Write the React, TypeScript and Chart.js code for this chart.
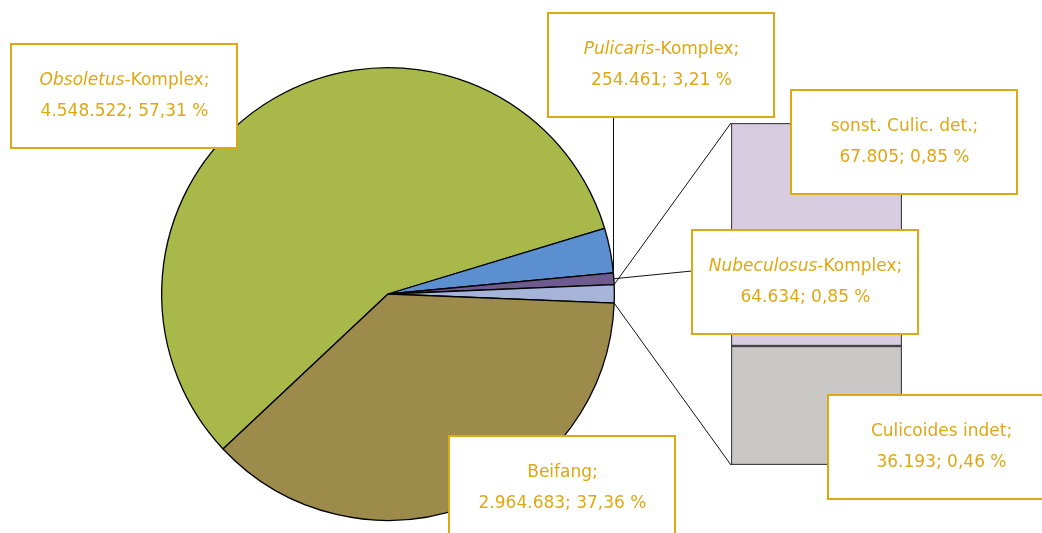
import React, { useEffect, useRef } from "react";
import { Chart, registerables } from "chart.js";

Chart.register(...registerables);

// ---- data ----
const pieLabels = ["Obsoletus-Komplex", "Pulicaris-Komplex", "Nubeculosus-Komplex", "Sonstige", "Beifang"];
const obsoletusCount = 4548522;
const pulicarisCount = 254461;
const nubeculosusCount = 64634;
const beifangCount = 2964683;
const barLabels = ["Culicoides indet", "sonst. Culic. det."];
const barCounts = [36193, 67805];
const otherCount = barCounts[0] + barCounts[1];
const pieValues = [obsoletusCount, pulicarisCount, nubeculosusCount, otherCount, beifangCount];

const labelItalic = ["Obsoletus", "Pulicaris", "Nubeculosus", "", "", ""];
const labelPlain = ["-Komplex;", "-Komplex;", "-Komplex;", "sonst. Culic. det.;", "Culicoides indet;", "Beifang;"];
const labelCounts = [obsoletusCount, pulicarisCount, nubeculosusCount, barCounts[1], barCounts[0], beifangCount];
const labelPercents = ["57,31 %", "3,21 %", "0,85 %", "0,85 %", "0,46 %", "37,36 %"];

// ---- styling / layout ----
const pieColors = ["#A8B94A", "#5B8FD0", "#6E5C8E", "#A7B4DA", "#9C8B4B"];
const barColors = ["#C8C7C5", "#D8CCE1"];
const textColor = "rgb(222,168,20)";
const boxPos = [
  [11, 44],
  [548, 13],
  [692, 230],
  [791, 90],
  [828, 395],
  [449, 436],
];
const BOX_W = 226;
const BOX_H = 104;
const FONT = "DejaVu Sans";
const FONT_SIZE = 17;

function fmt(n: number): string {
  return String(n).replace(/\B(?=(\d{3})+(?!\d))/g, ".");
}

export default function App() {
  const pieRef = useRef<HTMLCanvasElement | null>(null);
  const barRef = useRef<HTMLCanvasElement | null>(null);

  useEffect(() => {
    if (!pieRef.current || !barRef.current) return;
    const pie = new Chart(pieRef.current, {
      type: "pie",
      data: {
        labels: pieLabels,
        datasets: [
          {
            data: pieValues,
            backgroundColor: pieColors,
            borderColor: "#000",
            borderWidth: 1.3,
          },
        ],
      },
      options: {
        animation: false,
        responsive: false,
        rotation: 226.8,
        layout: { padding: { left: 161, right: 427, top: 67, bottom: 12 } },
        plugins: { legend: { display: false }, tooltip: { enabled: false } },
      },
    });

    const overlay = {
      id: "overlay",
      afterDraw(chart: any) {
        const ctx = chart.ctx as CanvasRenderingContext2D;
        const arcs = pie.getDatasetMeta(0).data as any[];
        const a0 = arcs[0] as any;
        const cx = a0.x;
        const cy = a0.y;
        const r = a0.outerRadius;
        const other = arcs[3] as any;
        const nub = arcs[2] as any;
        const bottomBar = chart.getDatasetMeta(0).data[0] as any;
        const topBar = chart.getDatasetMeta(1).data[0] as any;
        const barLeft = topBar.x - topBar.width / 2;
        const barTop = topBar.y;
        const barBottom = bottomBar.base;

        ctx.save();
        ctx.strokeStyle = "#111";
        ctx.lineWidth = 1;
        // connectors pie -> bar
        ctx.beginPath();
        ctx.moveTo(cx + r * Math.cos(other.startAngle), cy + r * Math.sin(other.startAngle));
        ctx.lineTo(barLeft, barTop);
        ctx.moveTo(cx + r * Math.cos(other.endAngle), cy + r * Math.sin(other.endAngle));
        ctx.lineTo(barLeft, barBottom);
        ctx.stroke();

        // leader lines
        ctx.beginPath();
        const lx = 613.5;
        const ly = cy - Math.sqrt(Math.max(r * r - (lx - cx) * (lx - cx), 0));
        ctx.moveTo(lx, boxPos[1][1] + BOX_H);
        ctx.lineTo(lx, ly);
        const nm = (nub.startAngle + nub.endAngle) / 2;
        ctx.moveTo(cx + r * Math.cos(nm), cy + r * Math.sin(nm));
        ctx.lineTo(boxPos[2][0], 271);
        ctx.stroke();

        // label boxes
        for (let i = 0; i < boxPos.length; i++) {
          const [bx, by] = boxPos[i];
          ctx.fillStyle = "#fff";
          ctx.fillRect(bx, by, BOX_W, BOX_H);
          ctx.strokeStyle = textColor;
          ctx.lineWidth = 2;
          ctx.strokeRect(bx, by, BOX_W, BOX_H);
          const ccx = bx + BOX_W / 2 + 0.5;
          ctx.fillStyle = textColor;
          ctx.textBaseline = "middle";
          ctx.textAlign = "left";
          const it = labelItalic[i];
          const pl = labelPlain[i];
          ctx.font = `italic ${FONT_SIZE}px "${FONT}"`;
          const wi = it ? ctx.measureText(it).width : 0;
          ctx.font = `${FONT_SIZE}px "${FONT}"`;
          const wp = ctx.measureText(pl).width;
          let x = ccx - (wi + wp) / 2;
          const y1 = by + 37;
          if (it) {
            ctx.font = `italic ${FONT_SIZE}px "${FONT}"`;
            ctx.fillText(it, x, y1);
            x += wi;
          }
          ctx.font = `${FONT_SIZE}px "${FONT}"`;
          ctx.fillText(pl, x, y1);
          ctx.textAlign = "center";
          ctx.fillText(`${fmt(labelCounts[i])}; ${labelPercents[i]}`, ccx, by + 68);
        }
        ctx.restore();
      },
    };

    const bar = new Chart(barRef.current, {
      type: "bar",
      data: {
        labels: [""],
        datasets: [
          {
            label: barLabels[0],
            data: [barCounts[0]],
            backgroundColor: barColors[0],
            borderColor: "#444",
            borderWidth: 1.5,
            borderSkipped: false,
          },
          {
            label: barLabels[1],
            data: [barCounts[1]],
            backgroundColor: barColors[1],
            borderColor: "#444",
            borderWidth: 1.5,
            borderSkipped: false,
          },
        ],
      },
      options: {
        animation: false,
        responsive: false,
        layout: { padding: { left: 731, right: 140, top: 123, bottom: 68 } },
        datasets: { bar: { barPercentage: 1, categoryPercentage: 1 } },
        scales: {
          x: { display: false, stacked: true },
          y: { display: false, stacked: true, min: 0, max: otherCount },
        },
        plugins: { legend: { display: false }, tooltip: { enabled: false } },
      },
      plugins: [overlay],
    });

    return () => {
      bar.destroy();
      pie.destroy();
    };
  }, []);

  return (
    <div style={{ position: "absolute", left: 0, top: 0, width: 1042, height: 533, background: "#fff" }}>
      <canvas ref={pieRef} width={1042} height={533} style={{ position: "absolute", left: 0, top: 0 }} />
      <canvas ref={barRef} width={1042} height={533} style={{ position: "absolute", left: 0, top: 0 }} />
    </div>
  );
}
